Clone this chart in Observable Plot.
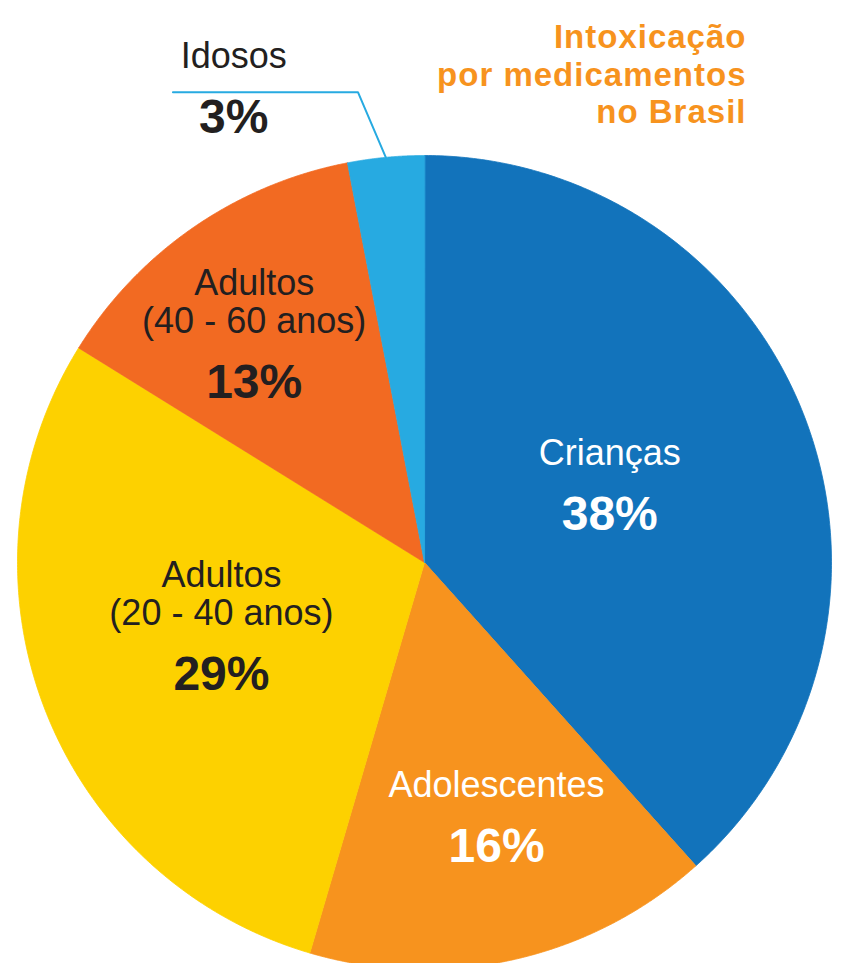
<!DOCTYPE html>
<html><head><meta charset="utf-8">
<script src="https://cdn.jsdelivr.net/npm/d3@7"></script>
<script src="https://cdn.jsdelivr.net/npm/@observablehq/plot@0.6"></script>
<style>body{margin:0;background:#fff;} .pie-title text{letter-spacing:1px;}</style>
</head><body><div id="chart"></div>
<script>
// ---- data ----
const categories = ["Crianças", "Adolescentes", "Adultos\n(20 - 40 anos)", "Adultos\n(40 - 60 anos)", "Idosos"];
const values = [38, 16, 29, 13, 3];
const pctLabels = ["38%", "16%", "29%", "13%", "3%"];
const colors = ["#1273BB", "#F7931E", "#FDD100", "#F26A22", "#27AAE1"];
const whiteText = [true, true, false, false, false];
const title = "Intoxicação\npor medicamentos\nno Brasil";

// ---- layout (pixels / degrees) ----
const W = 845, H = 963, R = 407, CX = 424, CY = 562;
const labelRadius = [188, 308, 240, 237, 470];   // distance of percentage baseline from centre
const labelShift = [11.1, -0.8, -11.3, -11.4, -18.5]; // degrees from slice mid-angle
const font = "'Liberation Sans', Arial, Helvetica, sans-serif";

const arcs = d3.pie().sort(null).value(d => d)(values);
const deg = Math.PI / 180;

// slice polygons
const slicePts = [];
arcs.forEach((a, i) => {
  const N = 240;
  slicePts.push({cat: categories[i], x: 0, y: 0});
  for (let k = 0; k <= N; k++) {
    const t = a.startAngle + (a.endAngle - a.startAngle) * k / N;
    slicePts.push({cat: categories[i], x: R * Math.sin(t), y: R * Math.cos(t)});
  }
});

// labels
const labels = arcs.map((a, i) => {
  const m = (a.startAngle + a.endAngle) / 2 + labelShift[i] * deg;
  return {name: categories[i], pct: pctLabels[i], white: whiteText[i],
          x: labelRadius[i] * Math.sin(m), y: labelRadius[i] * Math.cos(m)};
});

// leader line for the small slice (Idosos)
const small = arcs[4];
const sm = (small.startAngle + small.endAngle) / 2;
const elbow = {x: 475 * Math.sin(sm - 2.6 * deg), y: 475 * Math.cos(sm - 2.6 * deg)};
const leader = [
  {x: R * Math.sin(sm), y: R * Math.cos(sm)},
  elbow,
  {x: elbow.x - 185, y: elbow.y}
];

const nameOpts = {x: "x", y: "y", text: "name", dy: -65, lineAnchor: "bottom",
  fontSize: 36, lineHeight: 38 / 36, fontFamily: font, textAnchor: "middle"};
const pctOpts = {x: "x", y: "y", text: "pct", lineAnchor: "bottom",
  fontSize: 48, fontWeight: "bold", fontFamily: font, textAnchor: "middle"};

const chart = Plot.plot({
  width: W, height: H,
  margin: 0,
  style: {fontFamily: font, background: "#fff"},
  x: {domain: [-CX, W - CX], axis: null},
  y: {domain: [-(H - CY), CY], axis: null},
  color: {domain: categories, range: colors},
  marks: [
    Plot.line(slicePts, {x: "x", y: "y", z: "cat", fill: "cat", stroke: "cat", strokeWidth: 0.8, curve: "linear-closed"}),
    Plot.line(leader, {x: "x", y: "y", stroke: "#27AAE1", strokeWidth: 2}),
    Plot.text(labels, {...nameOpts, filter: d => d.white, fill: "#ffffff"}),
    Plot.text(labels, {...nameOpts, filter: d => !d.white, fill: "#231F20"}),
    Plot.text(labels, {...pctOpts, filter: d => d.white, fill: "#ffffff"}),
    Plot.text(labels, {...pctOpts, filter: d => !d.white, fill: "#231F20"}),
    Plot.text([title], {text: d => d, frameAnchor: "top-right", dx: -99, dy: 21, lineAnchor: "top",
      textAnchor: "end", fontSize: 33, fontWeight: "bold", fill: "#F7931E", lineHeight: 37.5 / 33,
      fontFamily: font, className: "pie-title"})
  ]
});
document.getElementById("chart").appendChild(chart);
</script>
</body></html>
